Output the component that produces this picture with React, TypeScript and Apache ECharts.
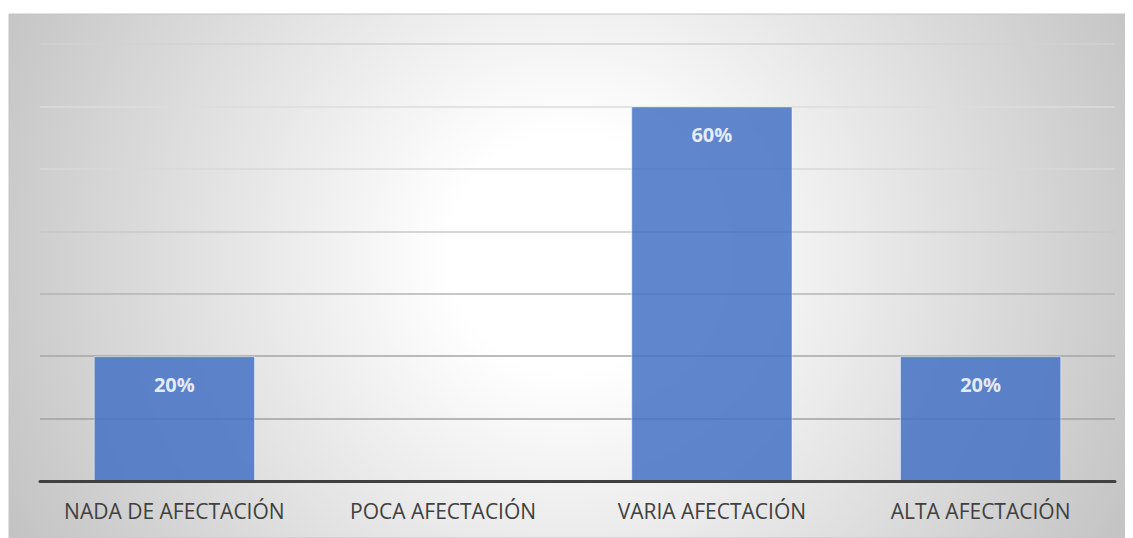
import React, { useEffect, useRef } from "react";
import * as echarts from "echarts";

const categories = ["NADA DE AFECTACIÓN", "POCA AFECTACIÓN", "VARIA AFECTACIÓN", "ALTA AFECTACIÓN"];
const values = [20, 0, 60, 20];
const valueLabels = ["20%", "", "60%", "20%"];
const gridLineColors = ["#404040", "#a0a0a0", "#a6a6a6", "#b4b4b4", "#c8c8c8", "#d8d8d8", "#dcdcdc", "#d2d2d2"];

export default function App() {
  const ref = useRef<HTMLDivElement>(null);
  useEffect(() => {
    if (!ref.current) return;
    const chart = echarts.init(ref.current, undefined, { renderer: "svg" });
    chart.setOption({
      animation: false,
      graphic: [
        {
          type: "rect",
          z: -10,
          silent: true,
          shape: { x: 1, y: 6, width: 1124, height: 524 },
          style: {
            fill: {
              type: "radial",
              x: 560,
              y: 245,
              r: 660,
              global: true,
              colorStops: [
                { offset: 0, color: "#ffffff" },
                { offset: 0.18, color: "#ffffff" },
                { offset: 1, color: "#bfbfbf" },
              ],
            },
            stroke: "#c4c4c4",
            lineWidth: 1,
          },
        },
      ],
      grid: { left: 32, right: 18, top: 36, bottom: 57, containLabel: false },
      xAxis: {
        type: "category",
        data: categories,
        axisLine: { show: true, lineStyle: { color: "#404040", width: 3 } },
        axisTick: { show: false },
        axisLabel: {
          color: "#404040",
          fontFamily: "Open Sans",
          fontSize: 21,
          margin: 19,
          interval: 0,
        },
        z: 5,
      },
      yAxis: {
        type: "value",
        min: 0,
        max: 70,
        interval: 10,
        axisLabel: { show: false },
        axisLine: { show: false },
        axisTick: { show: false },
        splitLine: { show: true, lineStyle: { color: gridLineColors, width: 1.5 } },
      },
      series: [
        {
          type: "bar",
          data: values.map((v, i) => ({ value: v, label: { show: valueLabels[i] !== "" } })),
          barWidth: "60%",
          itemStyle: {
            color: "#4472C4",
            opacity: 0.85,
            borderColor: "rgba(255,255,255,0.55)",
            borderWidth: 1,
          },
          label: {
            show: true,
            position: "insideTop",
            distance: 18,
            color: "#ffffff",
            fontFamily: "Open Sans",
            fontWeight: "bold",
            fontSize: 20,
            formatter: (p: any) => valueLabels[p.dataIndex],
          },
        },
      ],
    });
    return () => chart.dispose();
  }, []);
  return <div ref={ref} style={{ width: 1125, height: 530 }} />;
}
